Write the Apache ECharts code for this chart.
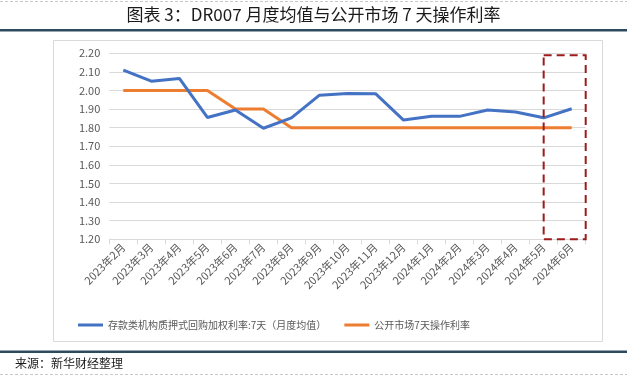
<!DOCTYPE html>
<html>
<head>
<meta charset="utf-8">
<script src="https://cdn.jsdelivr.net/npm/echarts@6/dist/echarts.min.js"></script>
<style>
html,body{margin:0;padding:0;background:#fff;}
#c{width:627px;height:379px;}
</style>
</head>
<body>
<div id="c"></div>
<script>
var titleText = '图表 3：DR007 月度均值与公开市场 7 天操作利率';
var sourceText = '来源：新华财经整理';
var categories = ['2023年2月','2023年3月','2023年4月','2023年5月','2023年6月','2023年7月','2023年8月','2023年9月','2023年10月','2023年11月','2023年12月','2024年1月','2024年2月','2024年3月','2024年4月','2024年5月','2024年6月'];
var dr007Name = '存款类机构质押式回购加权利率:7天（月度均值）';
var dr007 = [2.11,2.05,2.065,1.855,1.895,1.797,1.853,1.975,1.984,1.983,1.841,1.861,1.861,1.895,1.884,1.853,1.902];
var omoName = '公开市场7天操作利率';
var omo = [2.00,2.00,2.00,2.00,1.90,1.90,1.80,1.80,1.80,1.80,1.80,1.80,1.80,1.80,1.80,1.80,1.80];
var yTicks = [1.20,2.20,0.10]; // min, max, interval
var boxStartCategory = '2024年5月';
var boxTopValue = 2.19;

var FONT = '"Noto Sans CJK SC", "Noto Sans", sans-serif';
var chart = echarts.init(document.getElementById('c'), null, {renderer:'canvas'});
var option = {
  animation:false,
  backgroundColor:'#fff',
  grid:{left:109.3, right:41.3, top:53.3, bottom:139.7, containLabel:false},
  xAxis:{
    type:'category', data:categories, boundaryGap:true,
    axisLine:{show:true, lineStyle:{color:'#d9d9d9', width:1}},
    axisTick:{show:true, length:5, lineStyle:{color:'#d9d9d9'}},
    axisLabel:{rotate:45, fontSize:11, color:'#595959', fontFamily:FONT, margin:6, interval:0}
  },
  yAxis:{
    type:'value', min:yTicks[0], max:yTicks[1], interval:yTicks[2],
    axisLine:{show:false}, axisTick:{show:false},
    axisLabel:{fontSize:11, color:'#595959', fontFamily:FONT, margin:9, formatter:function(v){return v.toFixed(2);}},
    splitLine:{lineStyle:{color:'#d9d9d9', width:1}}
  },
  legend:{
    left:73, top:315, icon:'rect', itemWidth:25, itemHeight:3, itemGap:18,
    textStyle:{fontSize:10, color:'#595959', fontFamily:FONT},
    data:[dr007Name, omoName]
  },
  series:[
    {name:dr007Name, type:'line', data:dr007, symbol:'none', lineStyle:{width:3, color:'#4472C4'}, itemStyle:{color:'#4472C4'}, z:3},
    {name:omoName, type:'line', data:omo, symbol:'none', lineStyle:{width:3, color:'#ED7D31'}, itemStyle:{color:'#ED7D31'}, z:2}
  ],
  graphic:[]
};
chart.setOption(option);

var p1 = chart.convertToPixel({xAxisIndex:0, yAxisIndex:0}, [boxStartCategory, boxTopValue]);
var p2 = chart.convertToPixel({xAxisIndex:0, yAxisIndex:0}, [categories[categories.length-1], yTicks[0]]);
var gridRight = 627 - 41.3;

chart.setOption({graphic:[
  {type:'line', shape:{x1:0,y1:1.5,x2:627,y2:1.5}, style:{stroke:'#c8c8c8', lineWidth:1, lineDash:[3,2]}},
  {type:'text', left:'center', top:6, style:{text:titleText, font:'17px ' + FONT, fill:'#1a1a1a'}},
  {type:'rect', shape:{x:0,y:29,width:627,height:2.5}, style:{fill:'#2e4a5e'}},
  {type:'rect', shape:{x:53.5,y:40.5,width:549,height:301}, style:{fill:'none', stroke:'#d9d9d9', lineWidth:1}, z:-1},
  {type:'rect', shape:{x:p1[0], y:p1[1], width:gridRight - p1[0], height:p2[1]-p1[1]}, style:{fill:'none', stroke:'#9b1c1c', lineWidth:2, lineDash:[8,5]}, z:10},
  {type:'rect', shape:{x:0,y:350.5,width:627,height:2.5}, style:{fill:'#2e4a5e'}},
  {type:'text', left:15, top:357, style:{text:sourceText, font:'12px ' + FONT, fill:'#1a1a1a'}},
  {type:'line', shape:{x1:0,y1:374.5,x2:627,y2:374.5}, style:{stroke:'#c8c8c8', lineWidth:1, lineDash:[3,2]}}
]});
</script>
</body>
</html>
